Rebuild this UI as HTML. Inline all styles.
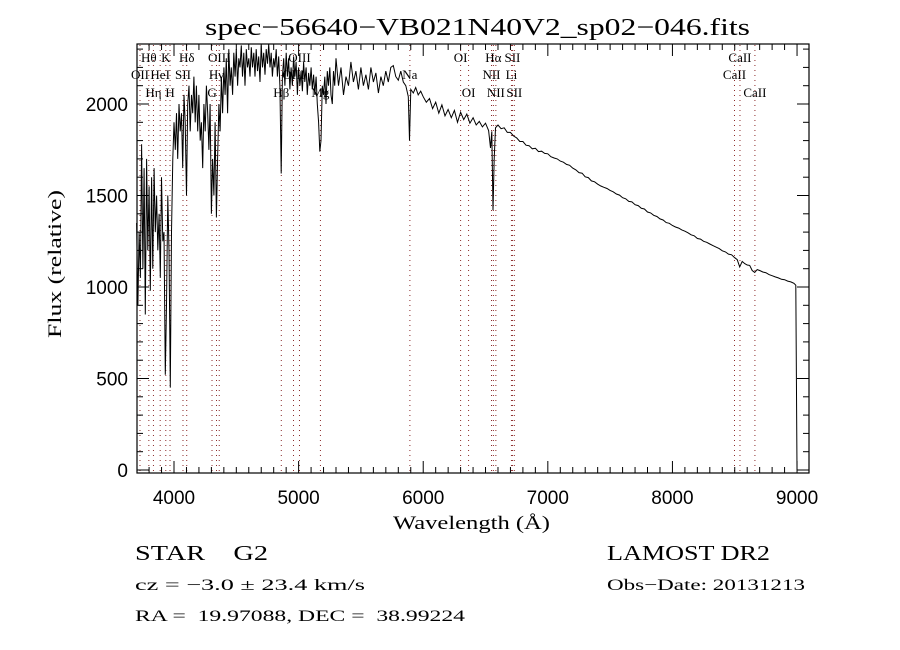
<!DOCTYPE html>
<html><head><meta charset="utf-8"><style>
html,body{margin:0;padding:0;background:#fff;}
svg{display:block;}
text{font-family:"Liberation Serif",serif;fill:#000;}
.tk{font-family:"Liberation Sans",sans-serif;font-size:19px;font-weight:300;}
.ln{font-size:13px;}
</style></head><body>
<svg id="chart" width="900" height="650" viewBox="0 0 900 650" xmlns="http://www.w3.org/2000/svg">
<text x="205" y="35" font-size="24" textLength="545" lengthAdjust="spacingAndGlyphs">spec−56640−VB021N40V2_sp02−046.fits</text>
<g id="lines"></g>
<g id="ticks"></g>
<path id="spec" fill="none" stroke="#000" stroke-width="1"/>
<rect x="137" y="44" width="672" height="429" fill="none" stroke="#000" stroke-width="1.2"/>
<text transform="translate(61,338) rotate(-90)" font-size="19" textLength="148" lengthAdjust="spacingAndGlyphs">Flux (relative)</text>
<text x="393" y="529" font-size="19" textLength="157" lengthAdjust="spacingAndGlyphs">Wavelength (Å)</text>
<text x="135" y="560" font-size="21" textLength="133" lengthAdjust="spacingAndGlyphs" xml:space="preserve">STAR    G2</text>
<text x="135" y="590" font-size="16" textLength="230" lengthAdjust="spacingAndGlyphs">cz = −3.0 ± 23.4 km/s</text>
<text x="135" y="621" font-size="16" textLength="330" lengthAdjust="spacingAndGlyphs" xml:space="preserve">RA =  19.97088, DEC =  38.99224</text>
<text x="607" y="560" font-size="21" textLength="163" lengthAdjust="spacingAndGlyphs">LAMOST DR2</text>
<text x="607" y="590" font-size="16" textLength="198" lengthAdjust="spacingAndGlyphs">Obs−Date: 20131213</text>
</svg>
<script>
const waves = [3700,3710,3720,3730,3740,3750,3760,3770,3780,3790,3800,3810,3820,3830,3840,3850,3860,3870,3880,3890,3900,3910,3920,3930,3940,3950,3960,3970,3980,3990,
4000,4010,4020,4030,4040,4050,4060,4070,4080,4090,4100,4110,4120,4130,4140,4150,4160,4170,4180,4190,4200,4210,4220,4230,4240,4250,4260,4270,4280,4290,4300,4310,4320,4330,4340,4350,4360,4370,4380,4390,4400,
4410,4420,4430,4440,4450,4460,4470,4480,4490,4500,4510,4520,4530,4540,4550,4560,4570,4580,4590,4600,4610,4620,4630,4640,4650,4660,4670,4680,4690,4700,4710,4720,4730,4740,4750,4760,4770,4780,4790,4800,4810,4820,4830,4840,4850,4860,4870,4880,4890,4900,
4910,4920,4930,4940,4950,4960,4970,4980,4990,5000,5010,5020,5030,5040,5050,5060,5070,5080,5090,5100,5110,5120,5130,5140,5150,5160,5170,5180,5190,5200,5210,5220,5230,5240,5250,5260,5270,5280,5290,5300,
5320,5340,5360,5380,5400,5420,5440,5460,5480,5500,5520,5540,5560,5580,5600,5620,5640,5660,5680,5700,5720,5740,5760,5780,5800,5820,5840,5860,5880,5890,5900,5920,5940,5960,5980,6000,
6025,6050,6075,6100,6125,6150,6175,6200,6225,6250,6275,6300,6325,6350,6375,6400,6425,6450,6475,6500,6525,6540,6550,6560,6570,6580,6600,6625,6650,6675,6700,6725,6750,6775,6800,6825,6850,6875,6900,6925,6950,6975,7000,
7025,7050,7075,7100,7125,7150,7175,7200,7225,7250,7275,7300,7325,7350,7375,7400,7425,7450,7475,7500,7525,7550,7575,7600,7625,7650,7675,7700,7725,7750,7775,7800,7825,7850,7875,7900,7925,7950,7975,8000,
8025,8050,8075,8100,8125,8150,8175,8200,8225,8250,8275,8300,8325,8350,8375,8400,8425,8450,8475,8500,8520,8540,8560,8580,8600,8620,8640,8660,8680,8700,8725,8750,8775,8800,8825,8850,8875,8900,8925,8950,8975,8990,9000];
const flux = [1350,900,1300,1050,1780,1100,1650,850,1700,1200,1550,980,1600,1100,1650,1300,1500,1200,1400,1050,1600,1250,1300,520,900,1500,1200,450,1300,1700,
1900,1750,1950,1700,2000,1850,1950,1650,2050,1900,1500,2000,2100,1850,2050,1950,2150,1900,2100,1850,2050,1800,1900,1650,2000,1850,2100,1950,1750,2000,1400,1700,1500,1900,1380,1700,2000,1850,2150,1950,2200,
2050,2250,1950,2300,2100,2200,2050,2280,2150,2300,2100,2250,2200,2320,2150,2280,2100,2300,2200,2250,2150,2310,2200,2280,2150,2300,2180,2260,2120,2320,2200,2280,2160,2300,2220,2330,2200,2280,2150,2250,2200,2300,2150,2260,2100,1620,2150,2250,2100,2280,
2150,2250,2080,2200,2100,2260,2150,2230,2050,2200,2100,2180,2070,2230,2120,2200,2050,2170,2100,2200,2080,2160,2050,2150,2000,1900,1740,1800,2100,2050,2150,2000,2180,2100,2200,2050,2000,2180,2100,2250,
2100,2200,2050,2150,2100,2230,2120,2180,2080,2200,2100,2160,2080,2200,2120,2170,2060,2150,2100,2180,2120,2200,2210,2150,2130,2180,2120,2100,2040,1800,2080,2060,2090,2050,2070,2040,
2010,2030,1975,2010,1950,1995,1935,1970,1925,1965,1900,1955,1915,1945,1895,1925,1885,1905,1875,1895,1855,1760,1850,1420,1700,1870,1885,1865,1870,1845,1845,1825,1815,1795,1795,1775,1772,1755,1758,1740,1742,1730,1728,
1712,1705,1700,1688,1682,1670,1665,1650,1640,1625,1622,1602,1598,1580,1575,1562,1552,1545,1538,1528,1520,1508,1502,1488,1482,1468,1465,1450,1445,1430,1426,1410,1405,1392,1385,1372,1366,1352,1348,1336,
1328,1322,1312,1305,1296,1285,1280,1265,1262,1250,1244,1235,1226,1218,1210,1198,1192,1180,1176,1160,1150,1110,1140,1128,1120,1118,1090,1080,1095,1090,1082,1078,1068,1062,1055,1050,1042,1040,1032,1028,1020,1010,0];
const xTicks = [4000,5000,6000,7000,8000,9000];
const yTicks = [0,500,1000,1500,2000];
const lineWaves = [3727,3798,3835,3889,3934,3968,4072,4102,4305,4341,4363,4861,4959,5007,5175,5893,6300,6364,6548,6563,6583,6708,6716,6731,8498,8542,8662];
const lineLabels = ["OII","Hθ","Hη","HeI","K","H","SII","Hδ","G","Hγ","OIII","Hβ","OIII","OIII","Mg","Na","OI","OI","NII","Hα","NII","Li","SII","SII","CaII","CaII","CaII"];
const lineRows = [1,0,2,1,0,2,1,0,2,1,0,2,1,0,2,1,0,2,1,0,2,1,0,2,1,0,2];

const X0=137,X1=809,W0=3703,W1=9096,Y0=470,SY=0.183;
function xs(w){return X0+(w-W0)*(X1-X0)/(W1-W0);}
function ys(v){return Y0-v*SY;}
const NS="http://www.w3.org/2000/svg";
function mk(tag,attrs,parent){const e=document.createElementNS(NS,tag);for(const k in attrs)e.setAttribute(k,attrs[k]);parent.appendChild(e);return e;}

let d="";
for(let i=0;i<waves.length;i++){d+=(i?"L":"M")+xs(waves[i]).toFixed(1)+","+Math.max(44,ys(flux[i])).toFixed(1);}
document.getElementById('spec').setAttribute('d',d);

const lg=document.getElementById('lines');
const rowY=[62,79,97];
for(let i=0;i<lineWaves.length;i++){
  const x=xs(lineWaves[i]);
  const l=mk('line',{x1:x,x2:x,y1:45,y2:472,stroke:'#8b2a2a','stroke-width':1,'stroke-dasharray':'1,4'},lg);
  
  
  const t=mk('text',{x:x,y:rowY[lineRows[i]],'text-anchor':'middle',class:'ln'},lg);
  t.textContent=lineLabels[i];
  
  
}

const tg=document.getElementById('ticks');
for(let w=3800;w<=9000;w+=100){
  const x=xs(w);const major=(w%1000===0);const L=major?12:6;
  mk('line',{x1:x,x2:x,y1:473,y2:473-L,stroke:'#000'},tg);
  mk('line',{x1:x,x2:x,y1:44,y2:44+L,stroke:'#000'},tg);
}
for(const w of xTicks){
  const t=mk('text',{x:xs(w),y:504,'text-anchor':'middle',class:'tk'},tg);
  t.textContent=w;
  
  
}
for(let v=0;v<=2300;v+=100){
  const y=ys(v);const major=(v%500===0);const L=major?12:6;
  mk('line',{x1:137,x2:137+L,y1:y,y2:y,stroke:'#000'},tg);
  mk('line',{x1:809,x2:809-L,y1:y,y2:y,stroke:'#000'},tg);
}
for(const v of yTicks){
  const t=mk('text',{x:128,y:ys(v)+7,'text-anchor':'end',class:'tk'},tg);
  t.textContent=v;
  
  
}
</script>
</body></html>
